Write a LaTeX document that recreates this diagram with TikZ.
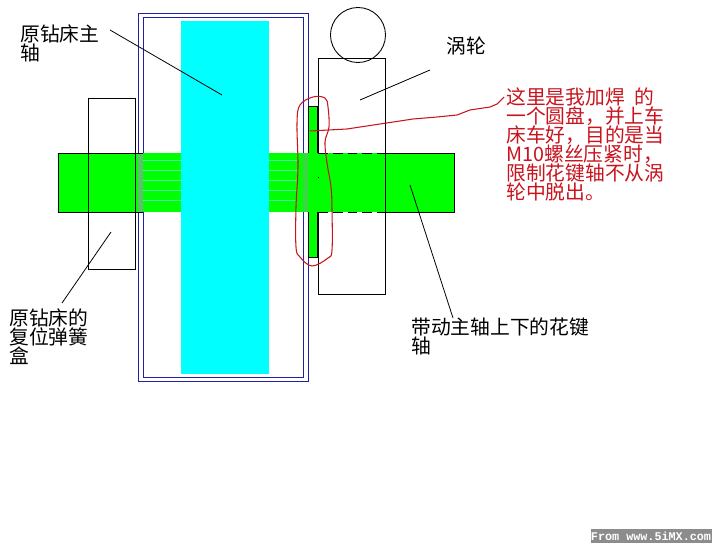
\documentclass[tikz,border=0pt]{standalone}
\usepackage{fontspec}
\setmonofont{Liberation Mono}
\newfontfamily\cjk{Noto Sans CJK SC}
\usepackage{tikz}
\definecolor{shaftgreen}{HTML}{00FF00}
\definecolor{bandgreen}{HTML}{5FBF6F}
\definecolor{splinecyan}{HTML}{55EEAA}
\definecolor{spindlecyan}{HTML}{00FFFF}
\definecolor{casingblue}{HTML}{2020A0}
\definecolor{notered}{HTML}{C8141E}
\definecolor{markgray}{HTML}{8C8C8C}
\tikzset{
	part/.style={draw=black, line width=0.5pt},
	casing/.style={draw=casingblue, line width=0.5pt},
	leader/.style={draw=black, line width=0.45pt},
	splineline/.style={draw=splinecyan, line width=0.5pt},
	redline/.style={draw=notered, line width=0.6pt, line join=round},
	label/.style={anchor=north west, inner sep=0pt, align=left, font=\cjk\fontsize{11.25}{10.9}\selectfont},
}
\begin{document}
\begin{tikzpicture}[x=0.02cm, y=-0.02cm]
	\useasboundingbox (0,0) rectangle (716,547);
	\fill[white] (0,0) rectangle (716,547);
	
	% 钻床外壳
	\draw[casing] (138,13) rectangle (308,381);
	\draw[casing] (143,17) rectangle (303,377);
	
	% 花键轴
	\fill[shaftgreen] (58,153) rectangle (454,212);
	\fill[bandgreen] (138,153) rectangle (143,212);
	\fill[bandgreen!60!shaftgreen] (303,153) rectangle (308,212);
	\draw[splineline] (143,160) -- (297,160);
	\draw[splineline] (143,170) -- (297,170);
	\draw[splineline] (143,180) -- (297,180);
	\draw[splineline] (143,190) -- (297,190);
	\draw[splineline] (143,200) -- (297,200);
	\draw[part] (143,153) -- (58,153) -- (58,212) -- (143,212);
	\draw[part] (385,153) -- (454,153) -- (454,212) -- (385,212);
	
	% 主轴
	\fill[spindlecyan] (181,21) rectangle (269,374);
	
	% 复位弹簧盒
	\draw[part] (88,98) rectangle (135.5,269);
	
	% 涡轮
	\draw[part] (318,153) -- (318,58) -- (385.5,58) -- (385.5,294) -- (318,294) -- (318,212);
	\draw[part] (358,35) circle (27.5);
	\draw[part, dash pattern=on 5.6pt off 2.8pt] (318,153) -- (385,153);
	\draw[part, dash pattern=on 5.6pt off 2.8pt] (318,212) -- (385,212);
	\fill[black] (317.5,177) rectangle (318.5,178);
	
	% 加焊的圆盘
	\fill[shaftgreen] (308,106) rectangle (318,153);
	\fill[shaftgreen] (308,212) rectangle (318,257);
	\draw[part] (318,153) -- (318,106) -- (308,106) -- (308,153);
	\draw[part] (308,212) -- (308,257) -- (318,257) -- (318,212);
	\draw[black, line width=1.2pt] (318,106) -- (318,153);
	\draw[black, line width=1.2pt] (318,212) -- (318,257);
	
	% 引线端点
	\coordinate (spindleFrom) at (110,30);
	\coordinate (spindleTo) at (222,95);
	\coordinate (wormFrom) at (430,70);
	\coordinate (wormTo) at (360,100);
	\coordinate (springFrom) at (111,232);
	\coordinate (springTo) at (62,303);
	\coordinate (splineFrom) at (410,185);
	\coordinate (splineTo) at (453,318);
	\coordinate (diskFrom) at (310,131);
	\coordinate (noteTo) at (504,97);
	
	% 引线
	\draw[leader] (spindleFrom) -- (spindleTo);
	\draw[leader] (wormFrom) -- (wormTo);
	\draw[leader] (springFrom) -- (springTo);
	\draw[leader] (splineFrom) -- (splineTo);
	
	% 红色圈线
	\draw[redline] plot[smooth cycle, tension=0.6] coordinates {(313,97) (325,98) (328,107) (329,127) (325,142) (327,163) (331,187) (332,210) (332,250) (328,258) (312,266) (300,257) (296,247) (296,207) (298,167) (297,123) (300,105)};
	\draw[redline] (diskFrom) -- (347,129) -- (380,124) -- (413,119) -- (437,117) -- (457,115) -- (470,110) -- (490,107) -- (497,104) -- (noteTo);
	
	% 文字
	\node[label] (spindleText) at (20,24) {原钻床主\\轴};
	\node[label] (wormText) at (446,37) {涡轮};
	\node[label] (springText) at (9,308) {原钻床的\\复位弹簧\\盒};
	\node[label] (splineText) at (411,317) {带动主轴上下的花键\\轴};
	\node[label, text=notered] (noteText) at (506,87) {这里是我加焊\hspace{0.5em}的\\一个圆盘，并上车\\床车好，目的是当\\M10螺丝压紧时，\\限制花键轴不从涡\\轮中脱出。};
	
	% 水印
	\fill[markgray] (591,529) rectangle (711.5,543);
	\node[inner sep=0pt, text=white, font=\ttfamily\bfseries\fontsize{6.7}{8}\selectfont] (markText) at (651,536.5) {From www.5iMX.com};
\end{tikzpicture}
\end{document}
